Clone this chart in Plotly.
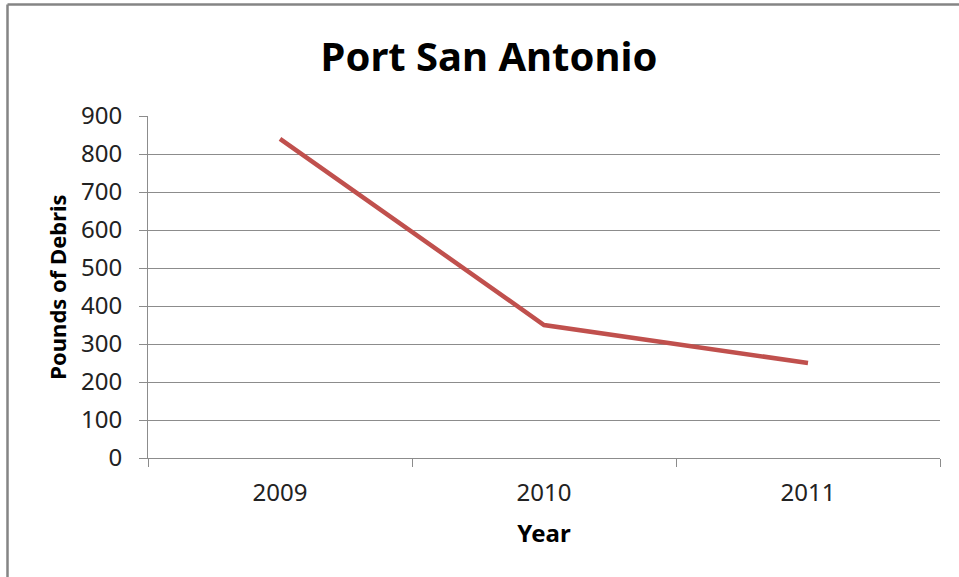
import plotly.graph_objects as go

years = ["2009", "2010", "2011"]
pounds = [840, 350, 250]
y_ticks = [0, 100, 200, 300, 400, 500, 600, 700, 800, 900]

W, H = 959, 577
L, R, T, B = 148, 940, 116, 458

def px_x(p):
    return (p - L) / (R - L)

def px_y(p):
    return (B - p) / (B - T)

fig = go.Figure()
fig.add_trace(go.Scatter(
    x=years, y=pounds, mode="lines",
    line=dict(color="#C0504D", width=4.5),
    showlegend=False,
))

font = "Noto Sans"
grid = "#8C8C8C"

fig.update_layout(
    width=W, height=H,
    margin=dict(l=L, r=W - R, t=T, b=H - B),
    paper_bgcolor="white", plot_bgcolor="white",
    title=dict(text="<b>Port San Antonio</b>", x=489 / W,
               xanchor="center", y=1 - 57 / H, yanchor="middle",
               font=dict(family=font, size=40, color="black")),
    font=dict(family=font, color="black"),
)

fig.update_xaxes(
    type="category", range=[-0.5, 2.5],
    tickson="boundaries", ticks="outside", ticklen=8, tickcolor=grid, tickwidth=1,
    showline=True, linecolor=grid, linewidth=1,
    showgrid=False, tickfont=dict(size=24, family=font, color="#222222"),
    ticklabelstandoff=13,
    title=dict(text="<b>Year</b>", font=dict(size=24, family=font), standoff=18),
)
fig.update_yaxes(
    range=[0, 900], tickvals=y_ticks, ticks="outside", ticklen=8, tickcolor=grid,
    showline=True, linecolor=grid, linewidth=1,
    showgrid=True, gridcolor=grid, gridwidth=1, zeroline=False,
    tickfont=dict(size=24, family=font, color="#222222"), ticklabelstandoff=12,
    title=dict(text="<b>Pounds of Debris</b>", font=dict(size=22, family=font), standoff=8),
)

# Outer chart border (top and left edges visible)
fig.add_shape(type="line", xref="paper", yref="paper",
              x0=px_x(7.5), x1=px_x(7.5), y0=px_y(4.5), y1=px_y(590),
              line=dict(color="#858585", width=2.5))
fig.add_shape(type="line", xref="paper", yref="paper",
              x0=px_x(7.5), x1=px_x(970), y0=px_y(4.5), y1=px_y(4.5),
              line=dict(color="#858585", width=2.5))

fig.write_html("out.html")
